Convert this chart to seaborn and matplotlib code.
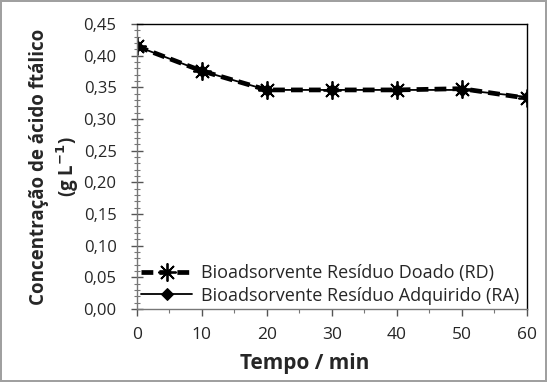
import matplotlib
matplotlib.use("Agg")
import matplotlib.pyplot as plt
import seaborn as sns
import pandas as pd
from matplotlib.ticker import MultipleLocator, FuncFormatter

tempo = [0, 10, 20, 30, 40, 50, 60]
rd = [0.415, 0.376, 0.346, 0.346, 0.346, 0.348, 0.333]
ra = [0.415, 0.376, 0.346, 0.346, 0.346, 0.346, 0.335]
label_rd = "Bioadsorvente Resíduo Doado (RD)"
label_ra = "Bioadsorvente Resíduo Adquirido (RA)"

sns.set_theme(style="white")
plt.rcParams['font.family'] = ['Open Sans', 'DejaVu Sans']

fig = plt.figure(figsize=(5.47, 3.82), dpi=100)
fig.patch.set_edgecolor('#a0a0a0')
fig.patch.set_linewidth(1.5)
ax = fig.add_axes([0.25, 0.191, 0.713, 0.746])

df_rd = pd.DataFrame({"t": tempo, "c": rd})
df_ra = pd.DataFrame({"t": tempo, "c": ra})

sns.lineplot(data=df_rd, x="t", y="c", ax=ax, color="black", lw=3.4,
             linestyle=(0, (2.5, 1.3)), marker=(8, 2, 0), markersize=13,
             markeredgewidth=1.3, markeredgecolor="black", label=label_rd)
sns.lineplot(data=df_ra, x="t", y="c", ax=ax, color="black", lw=1.3,
             marker="D", markersize=6.5, markeredgecolor="black", label=label_ra)

ax.set_xlim(0, 60)
ax.set_ylim(0, 0.45)
ax.xaxis.set_major_locator(MultipleLocator(10))
ax.xaxis.set_minor_locator(MultipleLocator(5))
ax.yaxis.set_major_locator(MultipleLocator(0.05))
ax.yaxis.set_minor_locator(MultipleLocator(0.01))
ax.yaxis.set_major_formatter(FuncFormatter(lambda v, p: f"{v:.2f}".replace(".", ",")))
ax.tick_params(axis="y", which="major", direction="inout", length=9, width=1,
               color="#555555", labelsize=12, left=True, pad=10)
ax.tick_params(axis="x", which="major", direction="out", length=5, width=1,
               color="#555555", labelsize=12.5, bottom=True, pad=8)
ax.tick_params(axis="y", which="minor", direction="inout", length=5, width=0.8,
               color="#777777", left=True)
ax.tick_params(axis="x", which="minor", direction="out", length=3, width=0.8,
               color="#777777", bottom=True)
for s in ax.spines.values():
    s.set_color("black")
    s.set_linewidth(1)
ax.spines["left"].set_color("#777777")
ax.spines["bottom"].set_color("#777777")

ax.set_xlabel("Tempo / min", fontsize=15, fontweight="bold", labelpad=8)
ax.xaxis.set_label_coords(0.43, -0.155)
ax.set_ylabel("Concentração de ácido ftálico\n(g L$^{\\mathbf{-1}}$)", fontsize=13.5,
              fontweight="bold", labelpad=2, linespacing=1.25)

leg = ax.legend(loc="lower left", frameon=False, fontsize=13, handlelength=2.8,
                borderaxespad=0.15, borderpad=0.1, labelspacing=0.25, handletextpad=0.5)

fig.savefig("out.png", dpi=100, edgecolor=fig.get_edgecolor())
